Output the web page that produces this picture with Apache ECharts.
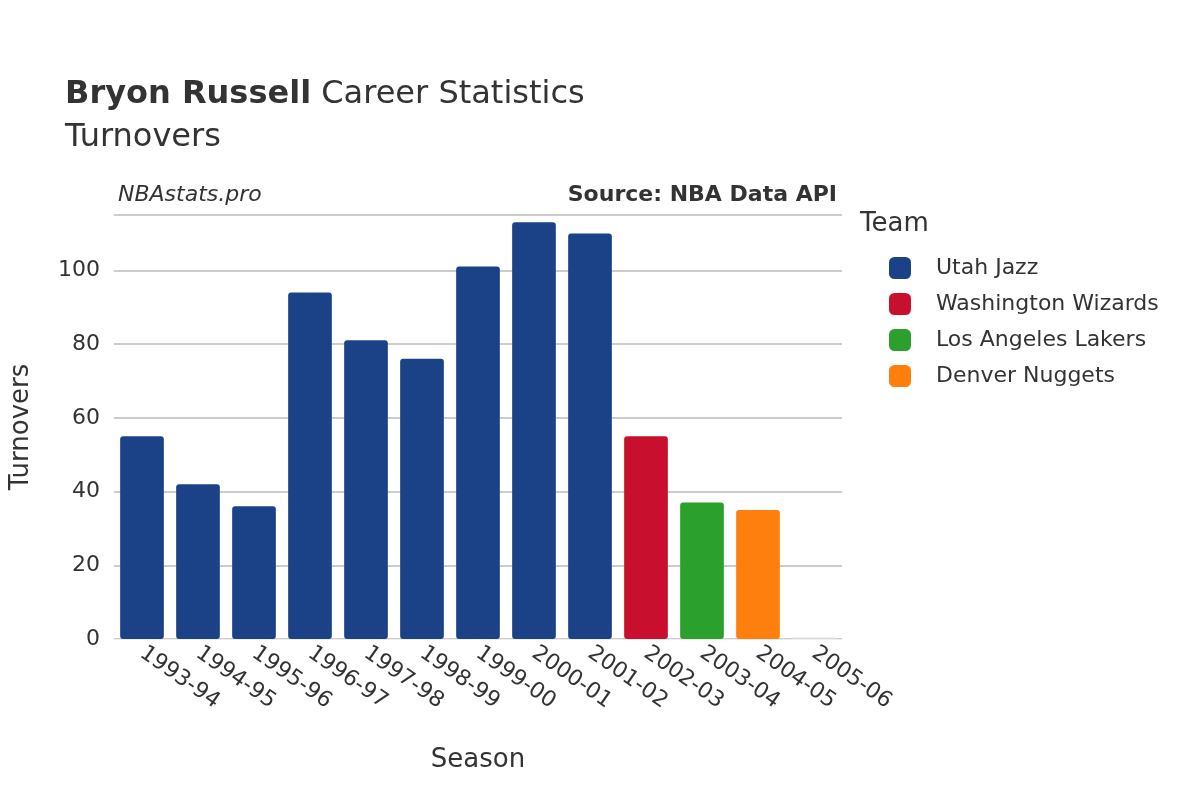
<!DOCTYPE html>
<html><head><meta charset="utf-8">
<script src="https://cdn.jsdelivr.net/npm/echarts@6/dist/echarts.min.js"></script>
<style>html,body{margin:0;background:#fff}#c{width:1200px;height:800px}</style>
</head><body><div id="c"></div>
<script>
const seasons = ["1993-94","1994-95","1995-96","1996-97","1997-98","1998-99","1999-00","2000-01","2001-02","2002-03","2003-04","2004-05","2005-06"];
const teams = ["Utah Jazz","Washington Wizards","Los Angeles Lakers","Denver Nuggets","Other"];
const teamColors = ["#1b4287","#c8102e","#2ca02c","#ff7f0e","#dddddd"];
const seasonTeam = [0,0,0,0,0,0,0,0,0,1,2,3,4];
const turnovers = [55,42,36,94,81,76,101,113,110,55,37,35,0.4];

const chart = echarts.init(document.getElementById("c"));
const font = "'DejaVu Sans', sans-serif";
chart.setOption({
  animation: false,
  textStyle: { fontFamily: font, color: "#333" },
  title: [
    { text: "{b|Bryon Russell} Career Statistics\nTurnovers", left: 60, top: 68,
      textStyle: { fontSize: 32, fontWeight: "normal", color: "#333", lineHeight: 43, fontFamily: font,
        rich: { b: { fontSize: 32, fontWeight: "bold", color: "#333", fontFamily: font } } } },
    { text: "NBAstats.pro", left: 113, top: 179, textStyle: { fontSize: 22, fontStyle: "italic", fontWeight: "normal", color: "#333" } },
    { text: "{n|Source: }{b|NBA Data API}", right: 358, top: 179,
      textStyle: { rich: { n: { fontSize: 22, color: "#333" }, b: { fontSize: 22, fontWeight: "bold", color: "#333" } } } },
  ],
  legend: {
    data: teams.slice(0, 4), orient: "vertical", left: 884, top: 252, itemGap: 14,
    itemWidth: 22, itemHeight: 22, icon: "roundRect",
    textStyle: { fontSize: 22, color: "#333", padding: [0, 0, 0, 20] },
  },
  graphic: [{ type: "text", left: 860, top: 211, style: { text: "Team", fontSize: 26, fill: "#333", fontFamily: font } }],
  grid: { left: 114, right: 358, top: 215, bottom: 161 },
  xAxis: {
    type: "category", data: seasons, name: "Season", nameLocation: "middle", nameGap: 108,
    nameTextStyle: { fontSize: 26, color: "#333" },
    axisLine: { lineStyle: { color: "#eee" } }, axisTick: { show: false },
    axisLabel: { rotate: -35, fontSize: 22, color: "#333", interval: 0, align: "left", margin: 12 },
  },
  yAxis: {
    type: "value", min: 0, max: 115, interval: 20, name: "Turnovers", nameLocation: "middle", nameGap: 80,
    nameTextStyle: { fontSize: 26, color: "#333" },
    axisLabel: { fontSize: 22, color: "#333", margin: 14, showMaxLabel: false },
    splitLine: { lineStyle: { color: "#bbb", width: 1.5 } },
  },
  series: teams.map((t, k) => ({
    name: t, type: "bar", stack: "s", barWidth: "78%",
    itemStyle: { color: teamColors[k], borderRadius: 3 },
    data: turnovers.map((v, i) => seasonTeam[i] === k ? v : null),
  })),
});
</script></body></html>
